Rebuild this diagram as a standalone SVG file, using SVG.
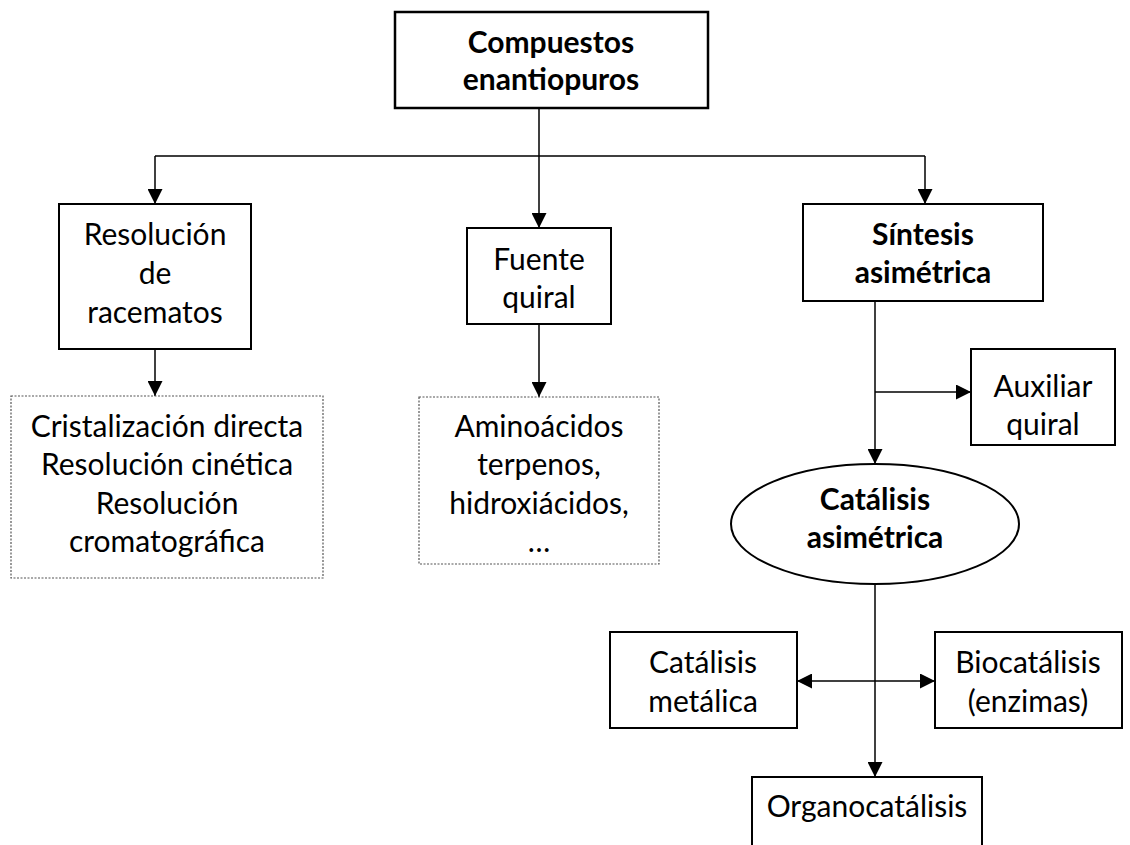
<svg xmlns="http://www.w3.org/2000/svg" width="1130" height="845" viewBox="0 0 1130 845">
<style>
.box{fill:#fff;stroke:#000;stroke-width:2}
.dot{fill:#fff;stroke:#555;stroke-width:1.2;stroke-dasharray:2 1.5}
.t{font-family:Lato,"Liberation Sans",sans-serif;font-size:30px;fill:#000;text-anchor:middle}
.b{font-weight:bold}
.c{fill:none;stroke:#000;stroke-width:1.5}
</style>
<defs>
<marker id="ah" markerUnits="userSpaceOnUse" markerWidth="15" markerHeight="15" viewBox="0 0 15 15" refX="15" refY="7.5" orient="auto">
<path d="M0,0 L15,7.5 L0,15 z" fill="#000"/>
</marker>
</defs>
<rect width="1130" height="845" fill="#fff"/>
<g id="connectors">
<path class="c" d="M539,108 V156 M155,156 H925"/>
<path class="c" d="M155,156 V204" marker-end="url(#ah)"/>
<path class="c" d="M539,156 V228" marker-end="url(#ah)"/>
<path class="c" d="M925,156 V204" marker-end="url(#ah)"/>
<path class="c" d="M155,349 V396" marker-end="url(#ah)"/>
<path class="c" d="M539,324 V397" marker-end="url(#ah)"/>
<path class="c" d="M875,301 V464" marker-end="url(#ah)"/>
<path class="c" d="M875,392 H971" marker-end="url(#ah)"/>
<path class="c" d="M875,584 V777" marker-end="url(#ah)"/>
<path class="c" d="M875,681 H797" marker-end="url(#ah)"/>
<path class="c" d="M875,681 H935" marker-end="url(#ah)"/>
</g>
<g id="compuestos">
<rect class="box" x="395" y="12" width="313" height="96" style="stroke-width:2.5"/>
<text class="t b" x="551" y="53">Compuestos</text>
<text class="t b" x="551" y="90">enantiopuros</text>
</g>
<g id="resolucion">
<rect class="box" x="59" y="204" width="192" height="145"/>
<text class="t" x="155" y="245">Resolución</text>
<text class="t" x="155" y="284">de</text>
<text class="t" x="155" y="323">racematos</text>
</g>
<g id="metodos-resolucion">
<rect class="dot" x="11" y="396" width="312" height="182"/>
<text class="t" x="167" y="437">Cristalización directa</text>
<text class="t" x="167" y="475">Resolución cinética</text>
<text class="t" x="167" y="514">Resolución</text>
<text class="t" x="167" y="552">cromatográfica</text>
</g>
<g id="fuente">
<rect class="box" x="467" y="228" width="144" height="96"/>
<text class="t" x="539" y="270">Fuente</text>
<text class="t" x="539" y="308">quiral</text>
</g>
<g id="ejemplos-fuente">
<rect class="dot" x="419" y="397" width="240" height="167"/>
<text class="t" x="539" y="437">Aminoácidos</text>
<text class="t" x="539" y="475">terpenos,</text>
<text class="t" x="539" y="514">hidroxiácidos,</text>
<text class="t" x="539" y="552">…</text>
</g>
<g id="sintesis">
<rect class="box" x="803" y="204" width="240" height="97"/>
<text class="t b" x="923" y="245">Síntesis</text>
<text class="t b" x="923" y="283">asimétrica</text>
</g>
<g id="auxiliar">
<rect class="box" x="971" y="349" width="144" height="96"/>
<text class="t" x="1043" y="397">Auxiliar</text>
<text class="t" x="1043" y="435">quiral</text>
</g>
<g id="catalisis">
<ellipse class="box" cx="875" cy="524" rx="144" ry="60"/>
<text class="t b" x="875" y="510">Catálisis</text>
<text class="t b" x="875" y="548">asimétrica</text>
</g>
<g id="metalica">
<rect class="box" x="610" y="632" width="187" height="96"/>
<text class="t" x="703" y="673">Catálisis</text>
<text class="t" x="703" y="712">metálica</text>
</g>
<g id="biocatalisis">
<rect class="box" x="935" y="632" width="187" height="96"/>
<text class="t" x="1028" y="673">Biocatálisis</text>
<text class="t" x="1028" y="712">(enzimas)</text>
</g>
<g id="organocatalisis">
<rect class="box" x="752" y="777" width="230" height="80"/>
<text class="t" x="867" y="817">Organocatálisis</text>
</g>
</svg>
